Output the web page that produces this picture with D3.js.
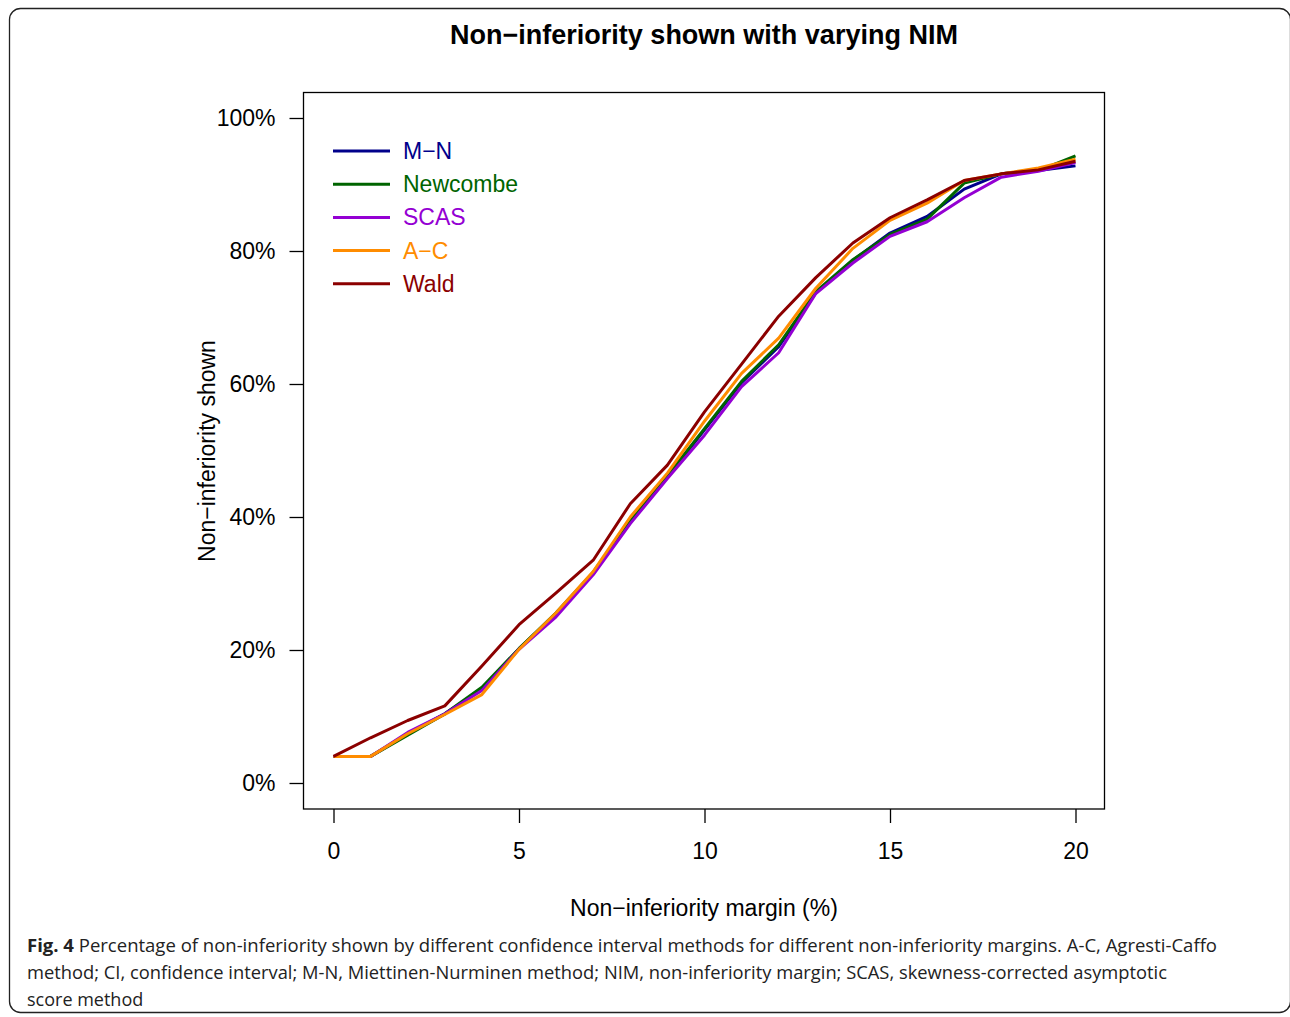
<!DOCTYPE html>
<html>
<head>
<meta charset="utf-8">
<script src="https://cdn.jsdelivr.net/npm/d3@7"></script>
<style>
body { margin: 0; background: #fff; }
svg { display: block; }
</style>
</head>
<body>
<div id="chart"></div>
<script>
// NIM values (%)
var margins = d3.range(0, 21);

var mn       = [4, 4, 7.4, 10.4, 14.1, 20.2, 25.4, 31.5, 39.2, 46, 53.1, 60.2, 65.6, 73.7, 78.6, 82.7, 85.2, 89.3, 91.6, 92.1, 92.8];
var newcombe = [4, 4, 7.2, 10.4, 14.4, 20.2, 25.6, 31.7, 39.4, 46.2, 53.3, 60.4, 65.9, 73.9, 78.7, 82.5, 84.8, 90.2, 91.6, 92.1, 94.3];
var scas     = [4, 4, 7.6, 10.4, 13.9, 20.1, 25, 31.3, 39, 45.8, 52.3, 59.6, 64.7, 73.6, 78.2, 82.2, 84.4, 88, 91.1, 92, 93.3];
var ac       = [4, 4, 7.4, 10.3, 13.3, 20.1, 25.6, 31.8, 40, 46.6, 54.4, 61.6, 66.9, 74.4, 80.4, 84.6, 87.2, 90.6, 91.6, 92.5, 93.8];
var wald     = [4, 6.8, 9.4, 11.6, 17.6, 23.8, 28.6, 33.5, 42, 47.8, 55.8, 63, 70.2, 76, 81.2, 85, 87.7, 90.6, 91.6, 92.2, 93.5];

var seriesNames = ["M\u2212N", "Newcombe", "SCAS", "A\u2212C", "Wald"];
var seriesColors = ["#00008b", "#006400", "#9400d3", "#ff8c00", "#8b0000"];
var seriesValues = [mn, newcombe, scas, ac, wald];

var xTicks = [0, 5, 10, 15, 20];
var yTicks = [0, 20, 40, 60, 80, 100];

var captionLines = [
  {bold: "Fig. 4", text: " Percentage of non-inferiority shown by different confidence interval methods for different non-inferiority margins. A-C, Agresti-Caffo"},
  {bold: "", text: "method; CI, confidence interval; M-N, Miettinen-Nurminen method; NIM, non-inferiority margin; SCAS, skewness-corrected asymptotic"},
  {bold: "", text: "score method"}
];

var W = 1290, H = 1017;
var svg = d3.select("#chart").append("svg")
    .attr("width", W)
    .attr("height", H);

// outer rounded frame (right side runs off the page)
svg.append("rect")
    .attr("x", 9.5).attr("y", 8.5)
    .attr("width", 1281).attr("height", 1004)
    .attr("rx", 11)
    .attr("fill", "none")
    .attr("stroke", "#222")
    .attr("stroke-width", 1.3);

var box = {left: 303.5, right: 1104.5, top: 92.5, bottom: 809};

var x = d3.scaleLinear().domain([0, 20]).range([333.5, 1075.5]);
var y = d3.scaleLinear().domain([0, 100]).range([783, 118]);

var font = "'Liberation Sans', Arial, Helvetica, sans-serif";

svg.append("text")
    .attr("x", 704).attr("y", 44)
    .attr("text-anchor", "middle")
    .style("font-family", font)
    .style("font-size", "27px")
    .style("font-weight", "bold")
    .text("Non\u2212inferiority shown with varying NIM");

svg.append("rect")
    .attr("x", box.left).attr("y", box.top)
    .attr("width", box.right - box.left)
    .attr("height", box.bottom - box.top)
    .attr("fill", "none")
    .attr("stroke", "#000")
    .attr("stroke-width", 1.3);

var gx = svg.append("g")
    .attr("transform", "translate(0," + box.bottom + ")")
    .call(d3.axisBottom(x).tickValues(xTicks).tickSize(14).tickPadding(20).tickFormat(d3.format("d")));
gx.select(".domain").remove();

var gy = svg.append("g")
    .attr("transform", "translate(" + box.left + ",0)")
    .call(d3.axisLeft(y).tickValues(yTicks).tickSize(14).tickPadding(14).tickFormat(function(d) { return d + "%"; }));
gy.select(".domain").remove();

svg.selectAll(".tick line").attr("stroke", "#000").attr("stroke-width", 1.3);
svg.selectAll(".tick text")
    .attr("fill", "#000")
    .style("font-family", font)
    .style("font-size", "23px");

svg.append("text")
    .attr("x", 704).attr("y", 916)
    .attr("text-anchor", "middle")
    .style("font-family", font)
    .style("font-size", "23px")
    .text("Non\u2212inferiority margin (%)");

svg.append("text")
    .attr("transform", "translate(215,451) rotate(-90)")
    .attr("text-anchor", "middle")
    .style("font-family", font)
    .style("font-size", "23px")
    .text("Non\u2212inferiority shown");

var line = d3.line()
    .x(function(d, i) { return x(margins[i]); })
    .y(function(d) { return y(d); });

seriesValues.forEach(function(vals, i) {
  svg.append("path")
      .datum(vals)
      .attr("fill", "none")
      .attr("stroke", seriesColors[i])
      .attr("stroke-width", 3)
      .attr("stroke-linejoin", "round")
      .attr("d", line);
});

// legend
var legend = svg.append("g").attr("class", "legend");
seriesNames.forEach(function(name, i) {
  var ly = 151 + i * 33.2;
  legend.append("line")
      .attr("x1", 333).attr("x2", 390)
      .attr("y1", ly).attr("y2", ly)
      .attr("stroke", seriesColors[i])
      .attr("stroke-width", 3);
  legend.append("text")
      .attr("x", 403).attr("y", ly + 8)
      .attr("fill", seriesColors[i])
      .style("font-family", font)
      .style("font-size", "23px")
      .text(name);
});

// caption
var capFont = "'Open Sans', 'Noto Sans', sans-serif";
var capWidths = [1190, 1140, null];
captionLines.forEach(function(c, i) {
  var t = svg.append("text")
      .attr("x", 27).attr("y", 952 + i * 27)
      .style("font-family", capFont)
      .style("font-size", "18px")
      .attr("fill", "#222");
  if (capWidths[i]) t.attr("textLength", capWidths[i]).attr("lengthAdjust", "spacingAndGlyphs");
  if (c.bold) t.append("tspan").style("font-weight", "bold").text(c.bold);
  t.append("tspan").text(c.text);
});
</script>
</body>
</html>
